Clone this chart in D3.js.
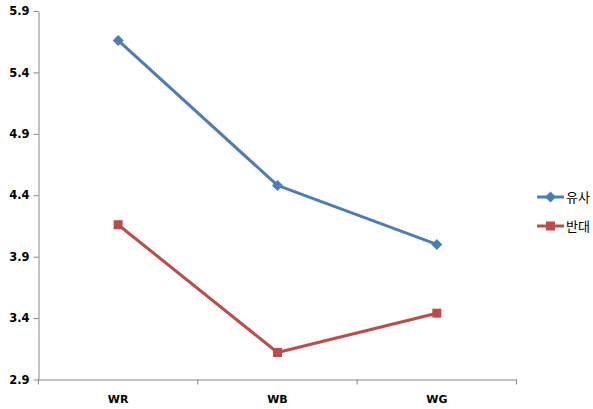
<!DOCTYPE html>
<html>
<head>
<meta charset="utf-8">
<script src="https://cdn.jsdelivr.net/npm/d3@7"></script>
<style>
  body { margin: 0; background: #fff; }
  text { font-family: "DejaVu Sans", Verdana, sans-serif; }
</style>
</head>
<body>
<div id="chart"></div>
<script>
var categories = ["WR", "WB", "WG"];
var seriesNames = ["유사", "반대"];
var similarValues = [5.66, 4.48, 4.00];
var oppositeValues = [4.16, 3.12, 3.44];
var yTicks = [2.9, 3.4, 3.9, 4.4, 4.9, 5.4, 5.9];

var series = [
  { name: seriesNames[0], values: similarValues, color: "#4a7ebb", marker: "diamond" },
  { name: seriesNames[1], values: oppositeValues, color: "#be4b48", marker: "square" }
];

var svg = d3.select("#chart").append("svg")
  .attr("width", 593)
  .attr("height", 409)

var plotLeft = 38.5, plotRight = 516.5, plotTop = 11, plotBottom = 379.5;

var x = d3.scaleBand().domain(categories).range([plotLeft, plotRight]);
var y = d3.scaleLinear().domain([2.9, 5.9]).range([plotBottom, plotTop]);

// y axis
var yAxis = svg.append("g")
  .attr("transform", "translate(" + plotLeft + ",0)")
  .call(d3.axisLeft(y).tickValues(yTicks).tickSize(5).tickSizeOuter(0).tickFormat(d3.format(".1f")));
yAxis.select(".domain").attr("stroke", "#868686");
yAxis.selectAll(".tick line").attr("stroke", "#868686");
yAxis.selectAll("text")
  .attr("x", -9)
  .attr("font-size", "11.5px")
  .attr("font-weight", "bold")
  .attr("fill", "#000")
  .style("font-family", "Tahoma, 'DejaVu Sans', sans-serif");

// x axis
var xAxis = svg.append("g")
  .attr("transform", "translate(0," + plotBottom + ")")
  .call(d3.axisBottom(x).tickSize(0).tickSizeOuter(0));
xAxis.select(".domain").attr("stroke", "#868686");
xAxis.selectAll("text")
  .attr("y", 16)
  .attr("font-size", "11px")
  .attr("font-weight", "bold")
  .attr("fill", "#000");

// category boundary ticks
var bounds = categories.map(function(d) { return x(d); }).concat([x(categories[2]) + x.bandwidth()]);
svg.selectAll(".bound")
  .data(bounds)
  .enter()
    .append("line")
    .attr("class", "bound")
    .attr("x1", function(d) { return d; })
    .attr("x2", function(d) { return d; })
    .attr("y1", plotBottom)
    .attr("y2", plotBottom + 5)
    .attr("stroke", "#868686")

var line = d3.line()
  .x(function(d, i) { return x(categories[i]) + x.bandwidth() / 2; })
  .y(function(d) { return y(d); });

function drawMarker(g, type, color, cx, cy) {
  if (type === "diamond") {
    g.append("path")
      .attr("d", "M" + cx + "," + (cy - 5.5) + "L" + (cx + 5.5) + "," + cy + "L" + cx + "," + (cy + 5.5) + "L" + (cx - 5.5) + "," + cy + "Z")
      .attr("fill", color)
  } else {
    g.append("rect")
      .attr("x", cx - 4.5)
      .attr("y", cy - 4.5)
      .attr("width", 9)
      .attr("height", 9)
      .attr("fill", color)
  }
}

series.forEach(function(s) {
  svg.append("path")
    .datum(s.values)
    .attr("d", line)
    .attr("fill", "none")
    .attr("stroke", s.color)
    .attr("stroke-width", 3)
    .attr("stroke-linejoin", "round")

  var g = svg.append("g");
  s.values.forEach(function(v, i) {
    drawMarker(g, s.marker, s.color, x(categories[i]) + x.bandwidth() / 2, y(v));
  });
});

// legend
var legend = svg.append("g");
series.forEach(function(s, i) {
  var ly = 197 + i * 29;
  legend.append("line")
    .attr("x1", 537).attr("x2", 564)
    .attr("y1", ly).attr("y2", ly)
    .attr("stroke", s.color)
    .attr("stroke-width", 3)
  drawMarker(legend, s.marker, s.color, 550.5, ly);
  legend.append("text")
    .attr("x", 566)
    .attr("y", ly + 5)
    .attr("font-size", "13px")
    .attr("fill", "#000")
    .style("font-family", "'Noto Sans CJK KR', sans-serif")
    .text(s.name)
});
</script>
</body>
</html>
